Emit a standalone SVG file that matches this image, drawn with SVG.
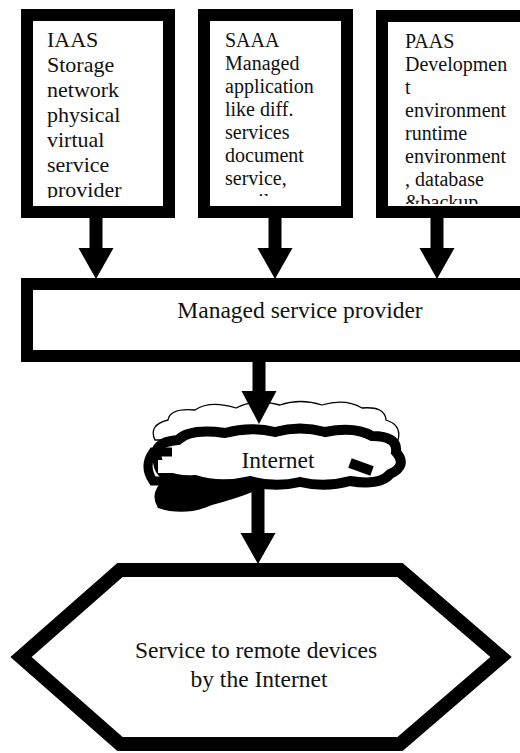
<svg xmlns="http://www.w3.org/2000/svg" width="520" height="753" viewBox="0 0 520 753">
<style>
.frame{fill:#fff;stroke:#000;stroke-width:12}
.t{fill:#111}
.b1{font-size:22px}
.b2{font-size:20px}
.big{font-size:23.5px}
.arr{fill:#000}
</style>
<defs>
<clipPath id="c1"><rect x="33" y="22" width="130" height="176"/></clipPath>
<clipPath id="c2"><rect x="210" y="22" width="132" height="174"/></clipPath>
<clipPath id="c3"><rect x="388" y="22" width="132" height="182"/></clipPath>
</defs>
<rect width="520" height="753" fill="#fff"/>

<g id="iaas">
<rect class="frame" x="27" y="15" width="142" height="197"/>
<text class="t b1" font-family="Liberation Serif, serif" clip-path="url(#c1)">
<tspan x="47" y="47">IAAS</tspan>
<tspan x="47" y="72">Storage</tspan>
<tspan x="47" y="97">network</tspan>
<tspan x="47" y="122">physical</tspan>
<tspan x="47" y="147">virtual</tspan>
<tspan x="47" y="172">service</tspan>
<tspan x="47" y="197">provider</tspan>
</text>
</g>

<g id="saaa">
<rect class="frame" x="204" y="15" width="143" height="197"/>
<text class="t b2" font-family="Liberation Serif, serif" clip-path="url(#c2)">
<tspan x="225" y="47">SAAA</tspan>
<tspan x="225" y="70">Managed</tspan>
<tspan x="225" y="93">application</tspan>
<tspan x="225" y="116">like diff.</tspan>
<tspan x="225" y="139">services</tspan>
<tspan x="225" y="162">document</tspan>
<tspan x="225" y="185">service,</tspan>
<tspan x="225" y="208">email</tspan>
</text>
</g>

<g id="paas">
<rect class="frame" x="382" y="16" width="160" height="196"/>
<text class="t b2" font-family="Liberation Serif, serif" clip-path="url(#c3)">
<tspan x="405" y="48">PAAS</tspan>
<tspan x="405" y="71">Developmen</tspan>
<tspan x="405" y="94">t</tspan>
<tspan x="405" y="117">environment</tspan>
<tspan x="405" y="140">runtime</tspan>
<tspan x="405" y="163">environment</tspan>
<tspan x="405" y="186">, database</tspan>
<tspan x="405" y="209">&amp;backup</tspan>
</text>
</g>

<g id="msp">
<rect class="frame" x="27" y="284" width="510" height="72"/>
<text class="t big" font-family="Liberation Serif, serif" x="300" y="318" text-anchor="middle">Managed service provider</text>
</g>

<g id="internet-back">
<path d="M155 440 Q148 425 168 420 Q170 408 195 410 Q210 400 236 408 Q255 398 280 405 Q300 398 322 405 Q345 398 362 408 Q385 406 386 420 Q402 425 398 440 Z" fill="#fff" stroke="#000" stroke-width="1.3"/>
</g>

<g id="connectors">
<path class="arr" d="M89.5 218 H102.5 V248 H113.5 L96 279 L78.5 248 H89.5 Z"/>
<path class="arr" d="M268.5 218 H281.5 V248 H292.5 L275 279 L257.5 248 H268.5 Z"/>
<path class="arr" d="M430.5 218 H443.5 V248 H454.5 L437 279 L419.5 248 H430.5 Z"/>
<path class="arr" d="M252.5 361 H265.5 V391 H276.5 L259 424 L241.5 391 H252.5 Z"/>
<path class="arr" d="M251.5 480 H264.5 V533 H275.5 L258 564 L240.5 533 H251.5 Z"/>
</g>

<g id="internet">
<path d="M166 478 Q148 492 158 508 Q185 517 212 505 Q240 498 262 488 L262 476 Z" fill="#000"/>
<path d="M158 462 Q150 442 178 440 Q190 428 225 433 Q250 426 275 432 Q300 425 325 432 Q355 426 372 436 Q398 436 396 452 Q408 466 390 474 Q380 486 350 481 Q325 488 300 482 Q275 488 250 481 Q220 488 195 480 Q160 482 158 462 Z" fill="#fff" stroke="#000" stroke-width="10"/>
<path d="M172 452 L153 452 Q143 466 153 481 L172 481" fill="none" stroke="#000" stroke-width="9"/>
<rect x="158" y="460" width="16" height="13" fill="#fff"/>
<path d="M350 463 L372 471" stroke="#000" stroke-width="10"/>
<text class="t big" font-family="Liberation Serif, serif" x="278" y="468" text-anchor="middle">Internet</text>
</g>

<g id="service">
<polygon points="120,570 400,570 501,657 400,744 120,744 21,657" fill="#fff" stroke="#000" stroke-width="14" stroke-linejoin="miter"/>
<text class="t big" font-family="Liberation Serif, serif" text-anchor="middle">
<tspan x="259" y="658">Service to remote devices</tspan>
<tspan x="259" y="687">by the Internet</tspan>
</text>
</g>
</svg>
